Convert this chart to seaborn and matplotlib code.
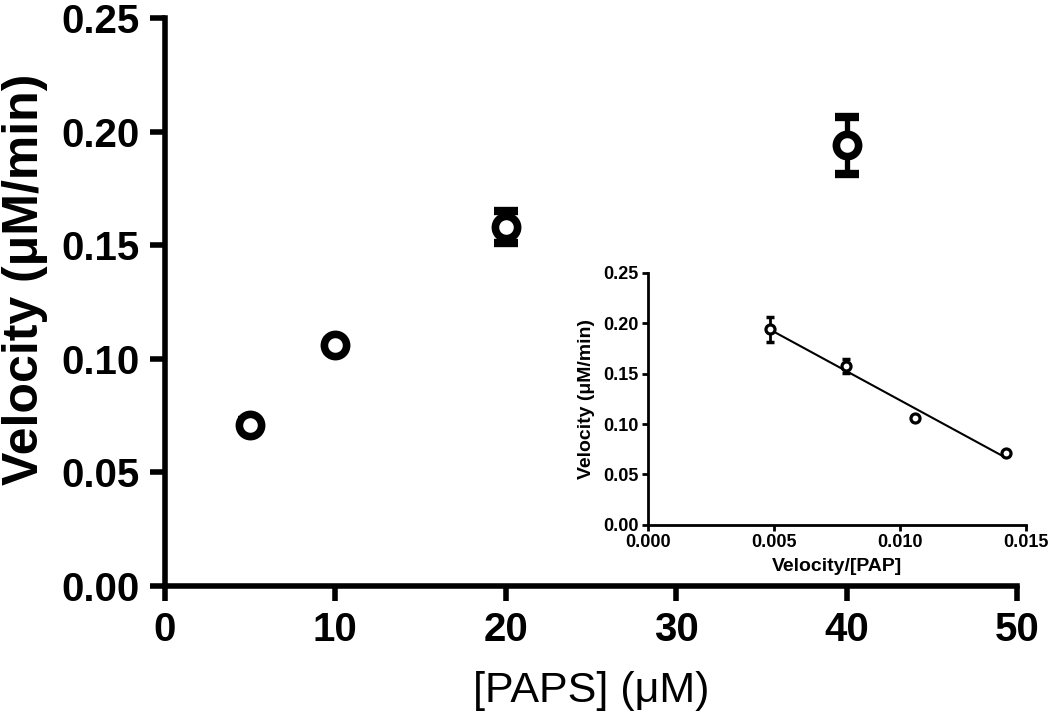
import numpy as np
import pandas as pd
import matplotlib
matplotlib.use("Agg")
import matplotlib.pyplot as plt
import seaborn as sns

# values
paps_um = [5, 10, 20, 40]
velocity = [0.071, 0.106, 0.158, 0.194]
velocity_err = [0.002, 0.002, 0.007, 0.0125]

# Eadie-Hofstee inset (v/[S] vs v)
v_over_s = [0.0142, 0.0106, 0.00785, 0.00485]
inset_velocity = [0.071, 0.106, 0.158, 0.194]
inset_err = [0.002, 0.002, 0.007, 0.0125]

main_xticks = [0, 10, 20, 30, 40, 50]
yticks = [0.00, 0.05, 0.10, 0.15, 0.20, 0.25]
ytick_labels = ["0.00", "0.05", "0.10", "0.15", "0.20", "0.25"]
inset_xticks = [0.000, 0.005, 0.010, 0.015]
inset_xtick_labels = ["0.000", "0.005", "0.010", "0.015"]

main_df = pd.DataFrame({"paps": paps_um, "v": velocity, "err": velocity_err})
inset_df = pd.DataFrame({"vs": v_over_s, "v": inset_velocity, "err": inset_err})

sns.set_style("ticks", {"axes.edgecolor": "black", "text.color": "black",
                        "xtick.color": "black", "ytick.color": "black",
                        "axes.labelcolor": "black"})
plt.rcParams["font.family"] = ["Liberation Sans", "DejaVu Sans"]

fig = plt.figure(figsize=(10.5, 7.27), dpi=100)
ax = fig.add_axes([0.157, 0.194, 0.812, 0.781])

# main plot
ax.errorbar(main_df["paps"], main_df["v"], yerr=main_df["err"], fmt="none",
            ecolor="black", elinewidth=3.8, capsize=8.5, capthick=6, zorder=2)
sns.scatterplot(data=main_df, x="paps", y="v", ax=ax, marker="o", s=16 ** 2,
                facecolor="white", edgecolor="black", linewidth=5.5, zorder=3)

ax.set_xlim(0, 50)
ax.set_ylim(0, 0.25)
ax.set_xticks(main_xticks)
ax.set_yticks(yticks)
ax.set_yticklabels(ytick_labels)
ax.set_xlabel("[PAPS] (\u03bcM)", fontsize=31, va="center")
ax.set_ylabel("Velocity (\u03bcM/min)", fontsize=36, fontweight="bold", va="center")
ax.xaxis.set_label_coords(0.5, -0.185)
ax.yaxis.set_label_coords(-0.164, 0.54)
ax.tick_params(axis="both", width=4, length=11, labelsize=29, pad=7)
for lbl in ax.get_xticklabels() + ax.get_yticklabels():
    lbl.set_fontweight("bold")
for side in ["top", "right"]:
    ax.spines[side].set_visible(False)
for side in ["left", "bottom"]:
    ax.spines[side].set_linewidth(4)

# inset
ins = fig.add_axes([0.617, 0.278, 0.36, 0.3466])
sns.regplot(data=inset_df, x="vs", y="v", ax=ins, ci=None, scatter=False,
            truncate=True, line_kws={"color": "black", "linewidth": 1.5})
ins.errorbar(inset_df["vs"], inset_df["v"], yerr=inset_df["err"], fmt="none",
             ecolor="black", elinewidth=2, capsize=3.2, capthick=2.5, zorder=2)
sns.scatterplot(data=inset_df, x="vs", y="v", ax=ins, marker="o", s=6.5 ** 2,
                facecolor="white", edgecolor="black", linewidth=2.3, zorder=3)
ins.set_xlim(0, 0.015)
ins.set_ylim(0, 0.25)
ins.set_xticks(inset_xticks)
ins.set_xticklabels(inset_xtick_labels)
ins.set_yticks(yticks)
ins.set_yticklabels(ytick_labels)
ins.set_xlabel("Velocity/[PAP]", fontsize=14, fontweight="bold", labelpad=5)
ins.set_ylabel("Velocity (\u03bcM/min)", fontsize=14, fontweight="bold", labelpad=6)
ins.tick_params(axis="both", width=2, length=4.5, labelsize=13, pad=2)
for lbl in ins.get_xticklabels() + ins.get_yticklabels():
    lbl.set_fontweight("bold")
for side in ["top", "right"]:
    ins.spines[side].set_visible(False)
for side in ["left", "bottom"]:
    ins.spines[side].set_linewidth(2)
ins.patch.set_alpha(0)

fig.savefig("out.png", dpi=100)
